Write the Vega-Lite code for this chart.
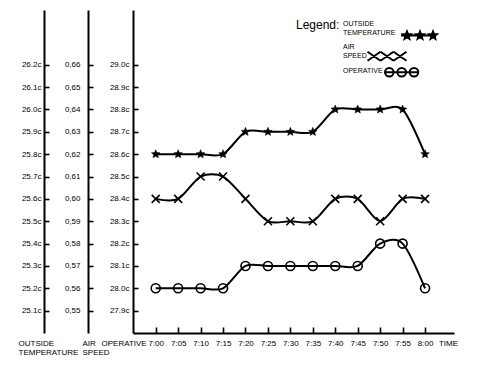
{
  "$schema": "https://vega.github.io/schema/vega-lite/v6.json",
  "width": 321,
  "height": 323,
  "autosize": {"type": "none"},
  "padding": {"left": 133, "top": 10, "right": 26, "bottom": 41},
  "background": "white",
  "data": {
    "values": [
      {"t": 0, "outside": 25.8, "air": 0.60, "operative": 28.0},
      {"t": 5, "outside": 25.8, "air": 0.60, "operative": 28.0},
      {"t": 10, "outside": 25.8, "air": 0.61, "operative": 28.0},
      {"t": 15, "outside": 25.8, "air": 0.61, "operative": 28.0},
      {"t": 20, "outside": 25.9, "air": 0.60, "operative": 28.1},
      {"t": 25, "outside": 25.9, "air": 0.59, "operative": 28.1},
      {"t": 30, "outside": 25.9, "air": 0.59, "operative": 28.1},
      {"t": 35, "outside": 25.9, "air": 0.59, "operative": 28.1},
      {"t": 40, "outside": 26.0, "air": 0.60, "operative": 28.1},
      {"t": 45, "outside": 26.0, "air": 0.60, "operative": 28.1},
      {"t": 50, "outside": 26.0, "air": 0.59, "operative": 28.2},
      {"t": 55, "outside": 26.0, "air": 0.60, "operative": 28.2},
      {"t": 60, "outside": 25.8, "air": 0.60, "operative": 28.0}
    ]
  },
  "encoding": {
    "x": {
      "field": "t",
      "type": "quantitative",
      "scale": {"domain": [-5.06, 66.45], "nice": false, "zero": false},
      "axis": {
        "values": [0, 5, 10, 15, 20, 25, 30, 35, 40, 45, 50, 55, 60],
        "labelExpr": "datum.value == 60 ? '8:00' : '7:' + (datum.value < 10 ? '0' : '') + datum.value",
        "tickSize": -6,
        "labelPadding": 12,
        "labelFlush": false,
        "labelOverlap": false,
        "title": "TIME",
        "titleX": 315,
        "titleY": 10,
        "titleAlign": "center",
        "titleBaseline": "middle",
        "grid": false
      }
    }
  },
  "layer": [
    {
      "encoding": {
        "y": {
          "field": "outside",
          "type": "quantitative",
          "scale": {"domain": [25.0, 26.445], "nice": false, "zero": false},
          "axis": {
            "orient": "left",
            "offset": 89,
            "values": [25.1, 25.2, 25.3, 25.4, 25.5, 25.6, 25.7, 25.8, 25.9, 26.0, 26.1, 26.2],
            "labelExpr": "format(datum.value, '.1f') + 'c'",
            "tickSize": -5,
            "labelPadding": 8,
            "labelOverlap": false,
            "grid": false,
            "title": ["OUTSIDE", "TEMPERATURE"],
            "titleAngle": 0,
            "titleAlign": "left",
            "titleBaseline": "top",
            "titleX": -26,
            "titleY": 329
          }
        }
      },
      "layer": [
        {"mark": {"type": "line", "interpolate": "cardinal", "tension": 0.15, "color": "black", "strokeWidth": 2}},
        {
          "mark": {"type": "point", "filled": true, "size": 4, "color": "black", "opacity": 1, "stroke": "black", "strokeWidth": 0.5,
                   "shape": "M0,-4.5L1.18,-1.62L4.28,-1.39L1.9,0.62L2.65,3.64L0,2L-2.65,3.64L-1.9,0.62L-4.28,-1.39L-1.18,-1.62Z"}
        },
        {
          "mark": {"type": "point", "filled": false, "size": 4, "color": "black", "strokeWidth": 2, "opacity": 0},
          "encoding": {
            "shape": {
              "datum": "OUTSIDE TEMPERATURE",
              "scale": {
                "domain": ["OUTSIDE TEMPERATURE", "AIR SPEED", "OPERATIVE"],
                "range": [
                  "M54.5,12H89.5M60.5,8L61.5,10.62L64.3,10.76L62.12,12.53L62.85,15.24L60.5,13.7L58.15,15.24L58.88,12.53L56.7,10.76L59.5,10.62ZM73.5,8L74.5,10.62L77.3,10.76L75.12,12.53L75.85,15.24L73.5,13.7L71.15,15.24L71.88,12.53L69.7,10.76L72.5,10.62ZM86.5,8L87.5,10.62L90.3,10.76L88.12,12.53L88.85,15.24L86.5,13.7L84.15,15.24L84.88,12.53L82.7,10.76L85.5,10.62Z",
                  "M21,5.2L34,14.2M21,14.2L34,5.2M34,5.2L47,14.2M34,14.2L47,5.2M47,5.2L60,14.2M47,14.2L60,5.2M40,14.7",
                  "M38.5,1.5H71.8M38.5,1.5A4.3,4.3 0 1,0 47.1,1.5A4.3,4.3 0 1,0 38.5,1.5ZM50.9,1.5A4.3,4.3 0 1,0 59.5,1.5A4.3,4.3 0 1,0 50.9,1.5ZM63.2,1.5A4.3,4.3 0 1,0 71.8,1.5A4.3,4.3 0 1,0 63.2,1.5Z"
                ]
              },
              "legend": {
                "orient": "none",
                "legendX": 163,
                "legendY": 10,
                "padding": 0,
                "title": "Legend:",
                "titleOrient": "left",
                "titleAnchor": "start",
                "titleBaseline": "top",
                "titleFontSize": 12,
                "titleFontWeight": "normal",
                "titleColor": "black",
                "titlePadding": 3,
                "labelFontSize": 7,
                "labelColor": "black",
                "labelOffset": -7,
                "labelExpr": "datum.label == 'OUTSIDE TEMPERATURE' ? ['OUTSIDE', 'TEMPERATURE'] : datum.label == 'AIR SPEED' ? ['AIR', 'SPEED'] : datum.label",
                "symbolSize": 4,
                "symbolOpacity": 1,
                "symbolStrokeWidth": 2,
                "rowPadding": -2.7
              }
            }
          }
        }
      ]
    },
    {
      "encoding": {
        "y": {
          "field": "air",
          "type": "quantitative",
          "scale": {"domain": [0.54, 0.6845], "nice": false, "zero": false},
          "axis": {
            "orient": "left",
            "offset": 45,
            "values": [0.55, 0.56, 0.57, 0.58, 0.59, 0.60, 0.61, 0.62, 0.63, 0.64, 0.65, 0.66],
            "labelExpr": "replace(format(datum.value, '.2f'), '.', ',')",
            "tickSize": -5,
            "labelPadding": 13,
            "labelOverlap": false,
            "grid": false,
            "title": ["AIR", "SPEED"],
            "titleAngle": 0,
            "titleAlign": "left",
            "titleBaseline": "top",
            "titleX": -6,
            "titleY": 329
          }
        }
      },
      "layer": [
        {"mark": {"type": "line", "interpolate": "cardinal", "tension": 0.15, "color": "black", "strokeWidth": 2}},
        {
          "mark": {"type": "point", "filled": false, "size": 4, "color": "black", "opacity": 1, "strokeWidth": 1.6, "shape": "M-4,-4L4,4M-4,4L4,-4"}
        },
        {
          "mark": {"type": "point", "filled": false, "size": 4, "color": "black", "strokeWidth": 2, "opacity": 0},
          "encoding": {"shape": {"datum": "AIR SPEED"}}
        }
      ]
    },
    {
      "encoding": {
        "y": {
          "field": "operative",
          "type": "quantitative",
          "scale": {"domain": [27.8, 29.245], "nice": false, "zero": false},
          "axis": {
            "orient": "left",
            "offset": 0,
            "values": [27.9, 28.0, 28.1, 28.2, 28.3, 28.4, 28.5, 28.6, 28.7, 28.8, 28.9, 29.0],
            "labelExpr": "format(datum.value, '.1f') + 'c'",
            "tickSize": -5,
            "labelPadding": 9,
            "labelOverlap": false,
            "grid": false,
            "title": "OPERATIVE",
            "titleAngle": 0,
            "titleAlign": "left",
            "titleBaseline": "top",
            "titleX": -32,
            "titleY": 329
          }
        }
      },
      "layer": [
        {"mark": {"type": "line", "interpolate": "cardinal", "tension": 0.15, "color": "black", "strokeWidth": 2}},
        {
          "mark": {"type": "point", "filled": false, "size": 4, "color": "black", "opacity": 1, "strokeWidth": 1.6, "shape": "M-4.5,0A4.5,4.5 0 1,0 4.5,0A4.5,4.5 0 1,0 -4.5,0Z"}
        },
        {
          "mark": {"type": "point", "filled": false, "size": 4, "color": "black", "strokeWidth": 2, "opacity": 0},
          "encoding": {"shape": {"datum": "OPERATIVE"}}
        }
      ]
    }
  ],
  "resolve": {"scale": {"y": "independent"}, "axis": {"y": "independent"}},
  "config": {
    "view": {"stroke": null},
    "font": "Liberation Sans",
    "axis": {
      "domainColor": "black",
      "domainWidth": 2,
      "tickColor": "black",
      "tickWidth": 1.6,
      "labelColor": "black",
      "labelFont": "Liberation Sans",
      "labelFontSize": 8,
      "titleColor": "black",
      "titleFont": "Liberation Sans",
      "titleFontSize": 8,
      "titleFontWeight": "normal",
      "titleLineHeight": 9
    },
    "legend": {
      "labelFont": "Liberation Sans",
      "titleFont": "Liberation Sans"
    }
  }
}
